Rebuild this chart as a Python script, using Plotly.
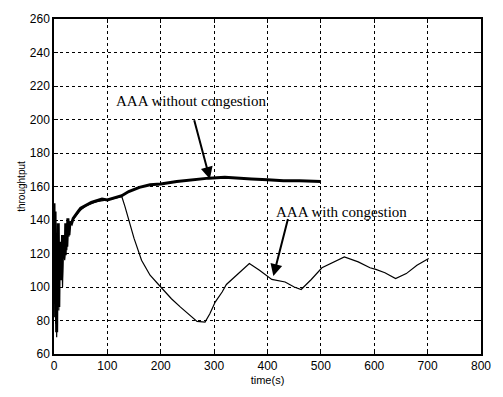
import plotly.graph_objects as go

# AAA without congestion (thick line)
t_without = [0, 1, 2, 3, 4, 5, 6, 7, 8, 9, 10, 11, 12, 14, 16, 18, 20, 21, 22, 24, 26, 28, 30, 33, 36, 40, 45, 50,
             60, 70, 80, 90, 100, 110, 120, 127, 140, 160, 180, 200, 230, 260, 290, 320, 340, 370, 400, 430, 460, 500]
y_without = [150, 95, 145, 82, 132, 73, 128, 98, 138, 88, 122, 108, 127, 104, 131, 117, 127, 119, 138, 124, 141, 131, 139,
             138, 141, 143, 145, 147, 149, 150.5, 151.5, 152.5, 152, 153, 154, 154.5, 157, 159.5, 161, 161.5, 163, 164,
             165, 165.5, 165, 164.5, 164, 163.5, 163.5, 163]

# AAA with congestion (thin line)
t_with = [0, 1, 2, 3, 4, 5, 6, 7, 8, 9, 10, 12, 14, 16, 18, 20, 22, 24, 26, 28, 30, 35, 40, 50, 60, 80, 100, 120, 127,
          133, 140, 150, 164, 180, 200, 220, 237, 255, 268, 283, 292, 302, 315, 323, 345, 366, 385, 408, 433, 450,
          463, 482, 502, 520, 544, 570, 592, 603, 620, 640, 660, 680, 702]
y_with = [148, 90, 140, 78, 128, 70, 120, 96, 133, 86, 118, 110, 124, 100, 128, 116, 126, 122, 136, 130, 138, 140, 142,
          146, 148.5, 151, 152, 153.5, 154, 148, 140, 129, 116, 107, 100, 93, 88, 83, 79.5, 79, 84, 91, 97, 101.5, 108,
          114, 110, 104.5, 103, 100, 98.5, 104.5, 111.5, 114.5, 118, 115, 111.5, 110.5, 108.5, 105, 108, 113, 117]

x_ticks = [0, 100, 200, 300, 400, 500, 600, 700, 800]
y_ticks = [60, 80, 100, 120, 140, 160, 180, 200, 220, 240, 260]

label_without = "AAA without congestion"
label_with = "AAA with congestion"

fig = go.Figure()
fig.add_trace(go.Scatter(x=t_with, y=y_with, mode="lines",
                         line=dict(color="black", width=1.2), showlegend=False))
fig.add_trace(go.Scatter(x=t_without, y=y_without, mode="lines",
                         line=dict(color="black", width=3), showlegend=False))

serif = "Liberation Serif, Times New Roman, serif"
fig.add_annotation(x=112, y=211, xref="x", yref="y", text=label_without, showarrow=False,
                   xanchor="left", yanchor="middle", font=dict(family=serif, size=15, color="black"))
fig.add_annotation(x=292, y=164.5, ax=262, ay=200.5, xref="x", yref="y", axref="x", ayref="y",
                   text="", showarrow=True, arrowhead=2, arrowsize=1.2, arrowwidth=2, arrowcolor="black")
fig.add_annotation(x=413, y=144.5, xref="x", yref="y", text=label_with, showarrow=False,
                   xanchor="left", yanchor="middle", font=dict(family=serif, size=15, color="black"))
fig.add_annotation(x=411, y=106.5, ax=439, ay=141.5, xref="x", yref="y", axref="x", ayref="y",
                   text="", showarrow=True, arrowhead=2, arrowsize=1.2, arrowwidth=2, arrowcolor="black")

sans = "Liberation Sans, Arial, sans-serif"
axis_common = dict(showline=True, linecolor="black", linewidth=1.5, mirror="ticks",
                   ticks="inside", ticklen=4, tickcolor="black",
                   showgrid=True, gridcolor="black", gridwidth=1, griddash="3px,3px",
                   zeroline=False, tickfont=dict(family=sans, size=12, color="black"))

fig.update_xaxes(range=[0, 800], tickvals=x_ticks, ticktext=[str(v) for v in x_ticks],
                 title=dict(text="time(s)", font=dict(family=sans, size=11, color="black"), standoff=4),
                 **axis_common)
fig.update_yaxes(range=[60, 260], tickvals=y_ticks, ticktext=[str(v) for v in y_ticks],
                 title=dict(text="throughtput", font=dict(family=sans, size=10, color="black"), standoff=2),
                 **axis_common)

fig.update_layout(width=503, height=397, margin=dict(l=54, r=12, t=15, b=41),
                  paper_bgcolor="white", plot_bgcolor="white")

fig.write_html("out.html")
